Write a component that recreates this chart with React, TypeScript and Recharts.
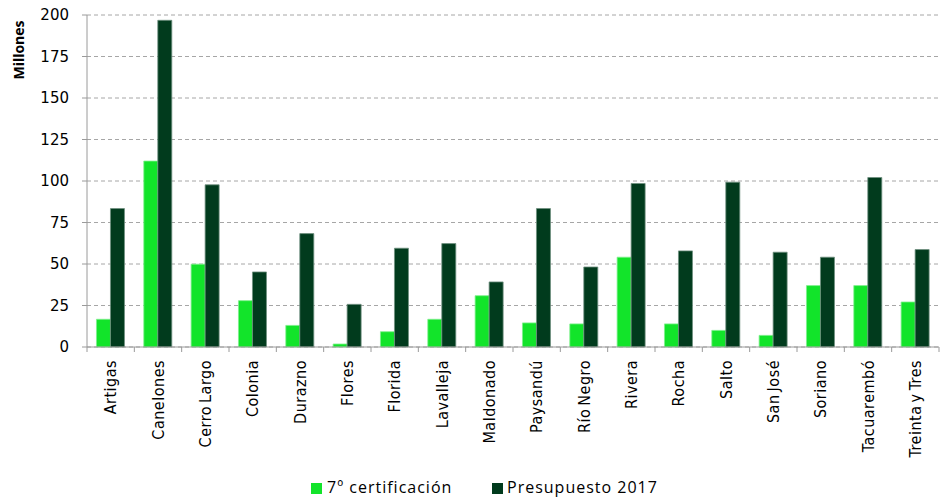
import React from 'react';
import { BarChart, Bar, XAxis, YAxis, CartesianGrid, Legend } from 'recharts';

const departamentos = [
  'Artigas', 'Canelones', 'Cerro Largo', 'Colonia', 'Durazno', 'Flores', 'Florida', 'Lavalleja',
  'Maldonado', 'Paysandú', 'Río Negro', 'Rivera', 'Rocha', 'Salto', 'San José', 'Soriano',
  'Tacuarembó', 'Treinta y Tres',
];
const certificacion7 = [16.7, 112, 49.9, 27.9, 13, 1.8, 9.2, 16.7, 30.9, 14.5, 13.9, 54.1, 13.9, 10, 7, 37, 37, 27.1];
const presupuesto2017 = [83.4, 196.8, 97.7, 45.2, 68.3, 25.7, 59.5, 62.3, 39.2, 83.4, 48.2, 98.5, 57.9, 99.3, 57.1, 54.1, 102.1, 58.7];
const yTicks = [0, 25, 50, 75, 100, 125, 150, 175, 200];

const LIGHT = '#12e42a';
const DARK = '#013b1d';
const AXIS = '#9a9a9a';

const data = departamentos.map((name, i) => ({
  name,
  cert: certificacion7[i],
  presu: presupuesto2017[i],
}));

const W = 941;
const H = 499;
const LEGEND_H = 20;
const XAXIS_H = 10;
// plot area runs from y=15 to y=347
const margin = { top: 15, right: 2, left: 0, bottom: H - 347 - LEGEND_H - XAXIS_H };
const yAxisWidth = 87;
const band = (W - margin.left - margin.right - yAxisWidth) / departamentos.length;

const CategoryTick = (props: any) => {
  const { x, y, payload, index } = props;
  const half = band / 2;
  return (
    <g>
      <line x1={x - half} x2={x - half} y1={y} y2={y + 5} stroke={AXIS} />
      {index === departamentos.length - 1 && (
        <line x1={x + half} x2={x + half} y1={y} y2={y + 5} stroke={AXIS} />
      )}
      <text
        transform={`translate(${x},${y + 13}) rotate(-90)`}
        textAnchor="end"
        dy="0.35em"
        fontSize={16}
        fontFamily="'Liberation Sans Narrow', 'DejaVu Sans Condensed', sans-serif"
        letterSpacing={0.5}
        wordSpacing={-2}
        fill="#000"
      >
        {payload.value}
      </text>
    </g>
  );
};

const LegendBox = () => (
  <div style={{ position: 'relative', height: LEGEND_H, fontFamily: "'Open Sans', sans-serif", fontSize: 16, color: '#000' }}>
    <div style={{ position: 'absolute', left: 311, top: 5, width: 11, height: 11, background: LIGHT }} />
    <span style={{ position: 'absolute', left: 327, top: -2, letterSpacing: 1 }}>7º certificación</span>
    <div style={{ position: 'absolute', left: 492, top: 5, width: 11, height: 11, background: DARK }} />
    <span style={{ position: 'absolute', left: 507, top: -2, letterSpacing: 1 }}>Presupuesto 2017</span>
  </div>
);

export default function App() {
  return (
    <div style={{ position: 'absolute', left: 0, top: 0, background: '#fff' }}>
      <BarChart width={W} height={H} data={data} margin={margin} barCategoryGap="20%" barGap={0}>
        <CartesianGrid vertical={false} stroke="#a6a6a6" strokeDasharray="4 3" />
        <XAxis
          dataKey="name"
          interval={0}
          tickLine={false}
          tickSize={0}
          tickMargin={0}
          axisLine={{ stroke: AXIS }}
          tick={<CategoryTick />}
          height={XAXIS_H}
        />
        <YAxis
          width={yAxisWidth}
          domain={[0, 200]}
          ticks={yTicks}
          interval={0}
          tickSize={5}
          tickMargin={13}
          axisLine={{ stroke: AXIS }}
          tickLine={{ stroke: AXIS }}
          tick={{ fill: '#000', fontSize: 15, fontFamily: "'DejaVu Sans', sans-serif" }}
          label={{
            content: () => (
              <text
                transform="translate(19,50) rotate(-90)"
                textAnchor="middle"
                dy="0.35em"
                fontSize={14}
                fontWeight="bold"
                fontFamily="'Open Sans', sans-serif"
                fill="#000"
              >
                Millones
              </text>
            ),
          }}
        />
        <Legend
          verticalAlign="bottom"
          content={<LegendBox />}
          wrapperStyle={{ left: 0, top: 478, bottom: 'auto', width: W, height: LEGEND_H }}
        />
        <Bar dataKey="cert" name="7º certificación" fill={LIGHT} stroke="#7ef08c" strokeWidth={0.8} isAnimationActive={false} />
        <Bar dataKey="presu" name="Presupuesto 2017" fill={DARK} stroke="#6f8f7f" strokeWidth={0.8} isAnimationActive={false} />
      </BarChart>
    </div>
  );
}
